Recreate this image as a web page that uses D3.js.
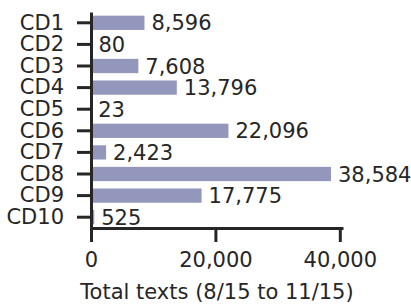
<!DOCTYPE html>
<html>
<head>
<meta charset="utf-8">
<script src="https://cdn.jsdelivr.net/npm/d3@7"></script>
<style>
  body { margin: 0; background: #fff; }
  text { font-family: "DejaVu Sans", sans-serif; fill: #262626; }
</style>
</head>
<body>
<div id="chart"></div>
<script>
// Data
const categories = ["CD1", "CD2", "CD3", "CD4", "CD5", "CD6", "CD7", "CD8", "CD9", "CD10"];
const totals = [8596, 80, 7608, 13796, 23, 22096, 2423, 38584, 17775, 525];
const xTicks = [0, 20000, 40000];
const xLabel = "Total texts (8/15 to 11/15)";

const width = 411, height = 304;
const margin = { top: 12, right: 68, bottom: 76, left: 91 };
const fontSize = "21px";

const svg = d3.select("#chart")
  .append("svg")
  .attr("width", width)
  .attr("height", height);

const x = d3.scaleLinear()
  .domain([0, d3.max(totals) * 1.05])
  .range([margin.left, width - margin.right]);

const y = d3.scaleBand()
  .domain(categories)
  .range([margin.top, height - margin.bottom])
  .paddingInner(0.34)
  .paddingOuter(0.17);

const rows = categories.map((c, i) => ({ cat: c, val: totals[i] }));

// Bars
svg.selectAll(".bar")
  .data(rows)
  .enter().append("rect")
  .attr("class", "bar")
  .attr("x", x(0))
  .attr("y", d => y(d.cat))
  .attr("width", d => x(d.val) - x(0))
  .attr("height", y.bandwidth())
  .attr("fill", "#9397bb");

// Value labels
svg.selectAll(".val")
  .data(rows)
  .enter().append("text")
  .attr("class", "val")
  .attr("x", d => x(d.val) + 7)
  .attr("y", d => y(d.cat) + y.bandwidth() / 2)
  .attr("dy", "0.36em")
  .style("font-size", fontSize)
  .text(d => d3.format(",")(d.val));

// Y axis
const yAxis = svg.append("g")
  .attr("transform", `translate(${x(0)},0)`)
  .call(d3.axisLeft(y).tickSize(14).tickPadding(13).tickSizeOuter(0));

// X axis
const xAxis = svg.append("g")
  .attr("transform", `translate(0,${height - margin.bottom})`)
  .call(d3.axisBottom(x).tickValues(xTicks).tickFormat(d3.format(",")).tickSize(14).tickPadding(10).tickSizeOuter(0));

[yAxis, xAxis].forEach(g => {
  g.select(".domain").attr("stroke", "#262626").attr("stroke-width", 3);
  g.selectAll(".tick line").attr("stroke", "#262626").attr("stroke-width", 3);
  g.selectAll(".tick text").style("font-size", fontSize).attr("fill", "#262626")
    .style("font-family", "'DejaVu Sans', sans-serif");
});

svg.append("text")
  .attr("x", (x.range()[0] + x.range()[1]) / 2)
  .attr("y", 299)
  .attr("text-anchor", "middle")
  .style("font-size", fontSize)
  .text(xLabel);
</script>
</body>
</html>
